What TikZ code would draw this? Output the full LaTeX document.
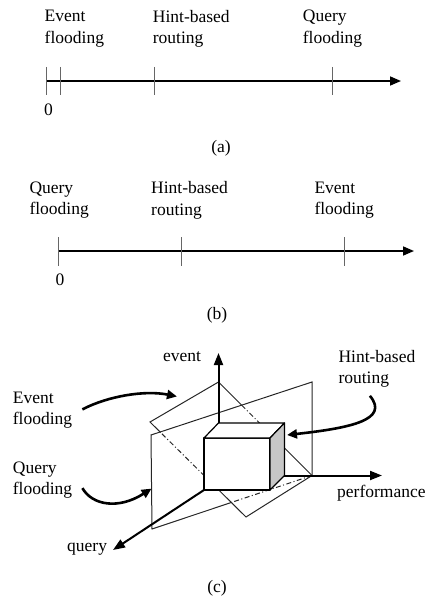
\documentclass[tikz,border=0pt]{standalone}
\usepackage{fontspec}
\setmainfont{Liberation Serif}
\usetikzlibrary{arrows.meta,calc,positioning}

\tikzset{
  lbl/.style={align=left,anchor=north west,inner sep=0pt,font=\fontsize{17.5}{21.5}\selectfont},
  captxt/.style={inner sep=0pt,font=\fontsize{17.5}{21.5}\selectfont},
  axisline/.style={line width=1.6pt,-{Triangle[length=11pt,width=9pt]}},
  axisthree/.style={line width=2pt,-{Triangle[length=12pt,width=9pt]}},
  tickline/.style={line width=1pt,black!60},
  planeline/.style={line width=1pt,black!85},
  hiddenline/.style={planeline,dash pattern=on 5pt off 2.5pt on 1pt off 2.5pt},
  cubeline/.style={line width=1.2pt,line join=round},
  bigarrow/.style={line width=2.6pt,-{Triangle[length=10pt,width=9pt]}},
}

\begin{document}
\begin{tikzpicture}[x=1pt,y=-1pt]
        \useasboundingbox (0,0) rectangle (429,602);
        \def\ya{81}
        \def\yb{251}
        % (a)
        \coordinate (a0) at (46,\ya);
        \coordinate (a1) at (401,\ya);
        \draw[axisline] (a0) -- (a1);
        \foreach \x in {46,60,154,332}
          \draw[tickline] (\x,67) -- (\x,95);
        \node[lbl] (aev) at (44.5,10) {Event\\flooding};
        \node[lbl] (ahint) at (152.7,10) {Hint-based\\routing};
        \node[lbl] (aqu) at (302.7,10) {Query\\flooding};
        \node[captxt] (azero) at (48.5,110) {0};
        \node[captxt] (acap) at (221,148) {(a)};
        % (b)
        \coordinate (b0) at (58,\yb);
        \coordinate (b1) at (414,\yb);
        \draw[axisline] (b0) -- (b1);
        \foreach \x in {58,181,344}
          \draw[tickline] (\x,237) -- (\x,266);
        \node[lbl] (bqu) at (29.3,181.5) {Query\\flooding};
        \node[lbl] (bhint) at (151,181.5) {Hint-based\\routing};
        \node[lbl] (bev) at (314.3,181.5) {Event\\flooding};
        \node[captxt] (bzero) at (60,280) {0};
        \node[captxt] (bcap) at (217,315) {(b)};
        % (c) corners
        \coordinate (O) at (218.5,475.5);
        \coordinate (etip) at (218.5,353);
        \coordinate (ptip) at (382,475.5);
        \coordinate (qtip) at (113,550);
        \coordinate (T) at (218.5,382);
        \coordinate (L) at (150,422);
        \coordinate (B) at (246,517);
        \coordinate (R) at (312,475.5);
        \coordinate (TL) at (151,435);
        \coordinate (TR) at (312,382);
        \coordinate (BL) at (152,529);
        \coordinate (P1) at ($(L)!0.11!(B)$);
        \coordinate (X1) at ($(L)!0.65!(B)$);
        \coordinate (P2) at ($(T)!0.248!(R)$);
        \coordinate (X2) at ($(T)!0.55!(R)$);
        \coordinate (P3) at ($(BL)!0.5!(R)$);
        % planes
        \draw[planeline] (P1) -- (L) -- (T) -- (P2);
        \draw[hiddenline] (P2) -- (X2);
        \draw[planeline] (X2) -- (R) -- (B) -- (X1);
        \draw[hiddenline] (X1) -- (P1);
        \draw[planeline] (P3) -- (BL) -- (TL) -- (TR) -- (R);
        \draw[hiddenline] (R) -- (P3);
        % axes
        \draw[axisthree] (O) -- (etip);
        \draw[axisthree] (O) -- (ptip);
        % cube
        \coordinate (FBL) at (204,490);
        \coordinate (FBR) at (270,490);
        \coordinate (FTR) at (270,438);
        \coordinate (FTL) at (204,438);
        \coordinate (BTL) at (218.5,423);
        \coordinate (BTR) at (284.5,423);
        \coordinate (BBR) at (284.5,475.5);
        \draw[cubeline,fill=white] (FBL) rectangle (FTR);
        \draw[cubeline,fill=white] (FTL) -- (BTL) -- (BTR) -- (FTR) -- cycle;
        \draw[cubeline,fill=black!22] (FTR) -- (BTR) -- (BBR) -- (FBR) -- cycle;
        \draw[axisthree] (FBL) -- (qtip);
        % labels
        \node[captxt,anchor=base west] (cev) at (163,361) {event};
        \node[captxt,anchor=base west] (cperf) at (337,497.5) {performance};
        \node[captxt,anchor=base west] (cqu) at (67,551.5) {query};
        \node[lbl] (chint) at (338.3,350) {Hint-based\\routing};
        \node[lbl] (cevf) at (12.7,391.8) {Event\\flooding};
        \node[lbl] (cquf) at (12.7,461.5) {Query\\flooding};
        \node[captxt] (ccap) at (217,588) {(c)};
        % pointers
        \coordinate (ehit) at (177,396.5);
        \coordinate (qhit) at ($(TL)!0.57!(BL)$);
        \coordinate (hhit) at (287,435);
        \draw[bigarrow] ([xshift=10pt,yshift=1pt]cevf.east) .. controls (108,396) and (145,390) .. (ehit);
        \draw[bigarrow] ([xshift=10pt,yshift=-8pt]cquf.east) .. controls (92,505) and (118,510) .. (qhit);
        \draw[bigarrow] ([xshift=-7pt,yshift=-8pt]chint.south) .. controls (390,420) and (350,428) .. (hhit);
\end{tikzpicture}
\end{document}
